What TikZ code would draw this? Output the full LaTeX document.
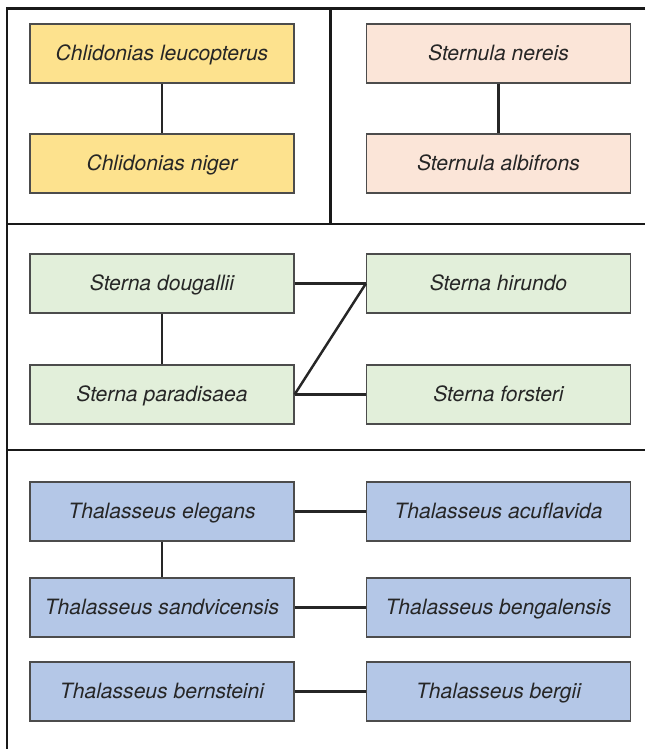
\documentclass[tikz,border=0pt]{standalone}
\usepackage{fontspec}
\setmainfont{TeX Gyre Heros}
\usepackage{tikz}
\usetikzlibrary{positioning}
\definecolor{chlyel}{RGB}{253,226,142}
\definecolor{sulpink}{RGB}{251,229,216}
\definecolor{stgreen}{RGB}{226,239,218}
\definecolor{thblue}{RGB}{180,199,231}

\begin{document}
\begin{tikzpicture}[x=0.02cm, y=-0.02cm,
  every node/.style={font=\fontsize{12}{14}\selectfont\itshape, text=black!85},
  sp/.style={draw=black!70, line width=0.7pt, minimum width=5.28cm, minimum height=1.18cm,
    inner sep=0pt, text height=1.0em, text depth=0.2em},
  frame/.style={line width=1.7pt, black!90},
  link/.style={line width=1.4pt, black!85}]
\useasboundingbox (0,0) rectangle (645,749);
% frame
\draw[frame] (645,9) -- (7,9) -- (7,749);
\draw[frame] (7,224) -- (645,224);
\draw[frame] (7,450) -- (645,450);
\draw[frame] (330,9) -- (330,224);
% species
\node[sp, fill=chlyel] (cleu) at (162,53.5) {Chlidonias leucopterus};
\node[sp, fill=chlyel] (cnig) at (162,163.5) {Chlidonias niger};
\node[sp, fill=sulpink] (sner) at (498.5,53.5) {Sternula nereis};
\node[sp, fill=sulpink] (salb) at (498.5,163.5) {Sternula albifrons};
\node[sp, fill=stgreen] (sdou) at (162,283.5) {Sterna dougallii};
\node[sp, fill=stgreen] (spar) at (162,394.5) {Sterna paradisaea};
\node[sp, fill=stgreen] (shir) at (498.5,283.5) {Sterna hirundo};
\node[sp, fill=stgreen] (sfor) at (498.5,394.5) {Sterna forsteri};
\node[sp, fill=thblue] (tele) at (162,511.5) {Thalasseus elegans};
\node[sp, fill=thblue] (tsan) at (162,607.5) {Thalasseus sandvicensis};
\node[sp, fill=thblue] (tber) at (162,691.5) {Thalasseus bernsteini};
\node[sp, fill=thblue] (tacu) at (498.5,511.5) {Thalasseus acuflavida};
\node[sp, fill=thblue] (tben) at (498.5,607.5) {Thalasseus bengalensis};
\node[sp, fill=thblue] (tbeg) at (498.5,691.5) {Thalasseus bergii};
% links
\draw[link] (cleu)--(cnig); \draw[link] (sner)--(salb);
\draw[link] (sdou)--(spar);
\draw[link] (sdou.east)--(shir.west); \draw[link] (spar.east)--(sfor.west);
\draw[link] (spar.east)--(shir.west);
\draw[link] (tele)--(tsan);
\draw[link] (tele)--(tacu); \draw[link] (tsan)--(tben); \draw[link] (tber)--(tbeg);
\end{tikzpicture}
\end{document}
